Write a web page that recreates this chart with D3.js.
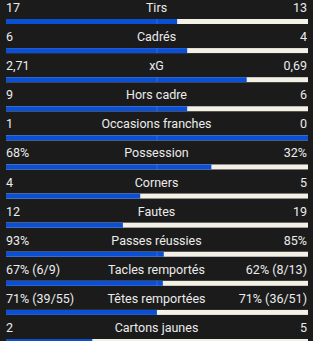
<!DOCTYPE html>
<html>
<head>
<meta charset="utf-8">
<script src="https://cdn.jsdelivr.net/npm/d3@7"></script>
<style>
  html, body { margin: 0; padding: 0; background: #1b1b1b; }
  svg { display: block; }
</style>
</head>
<body>
<div id="stats"></div>
<script>
var labels = ["Tirs", "Cadrés", "xG", "Hors cadre", "Occasions franches", "Possession", "Corners", "Fautes", "Passes réussies", "Tacles remportés", "Têtes remportées", "Cartons jaunes"];
var homeText = ["17", "6", "2,71", "9", "1", "68%", "4", "12", "93%", "67% (6/9)", "71% (39/55)", "2"];
var awayText = ["13", "4", "0,69", "6", "0", "32%", "5", "19", "85%", "62% (8/13)", "71% (36/51)", "5"];
var homeVal = [17, 6, 2.71, 9, 1, 68, 4, 12, 93, 67, 71, 2];
var awayVal = [13, 4, 0.69, 6, 0, 32, 5, 19, 85, 62, 71, 5];

var width = 313;
var height = 341;

var svg = d3.select("#stats")
        .append("svg")
        .attr("width", width)
        .attr("height", height);

svg.append("rect")
        .attr("width", width)
        .attr("height", height)
        .attr("fill", "#1b1b1b");

var x = d3.scaleLinear().domain([0, 1]).range([6, 308]);
var y = d3.scaleLinear().domain([0, 11]).range([0, 320]);

var rows = svg.selectAll("g.row")
        .data(labels)
        .enter()
        .append("g")
        .attr("class", "row")
        .attr("transform", function(d, i) { return "translate(0," + y(i) + ")"; });

var font = "Roboto, 'Liberation Sans', sans-serif";

rows.append("text")
        .attr("x", 6)
        .attr("y", 12)
        .attr("fill", "#ececec")
        .style("font-family", font)
        .style("font-size", "12.5px")
        .text(function(d, i) { return homeText[i]; });

rows.append("text")
        .attr("x", width / 2)
        .attr("y", 12)
        .attr("text-anchor", "middle")
        .attr("fill", "#ececec")
        .style("font-family", font)
        .style("font-size", "12.5px")
        .text(function(d) { return d; });

rows.append("text")
        .attr("x", 307)
        .attr("y", 12)
        .attr("text-anchor", "end")
        .attr("fill", "#ececec")
        .style("font-family", font)
        .style("font-size", "12.5px")
        .text(function(d, i) { return awayText[i]; });

// white background bar, blue share on top
rows.append("rect")
        .attr("x", x(0))
        .attr("y", 19)
        .attr("width", x(1) - x(0))
        .attr("height", 5)
        .attr("fill", "#f3f0e6");

rows.append("rect")
        .attr("x", x(0))
        .attr("y", 19)
        .attr("width", function(d, i) {
            var share = homeVal[i] / (homeVal[i] + awayVal[i]);
            return x(share) - x(0);
        })
        .attr("height", 5)
        .attr("fill", "#0b50d4");

// faint center mark
rows.append("line")
        .attr("x1", x(0.5))
        .attr("x2", x(0.5))
        .attr("y1", 19)
        .attr("y2", 24)
        .attr("stroke", "#ffffff")
        .attr("stroke-opacity", 0.15)
        .attr("stroke-width", 1);
</script>
</body>
</html>
